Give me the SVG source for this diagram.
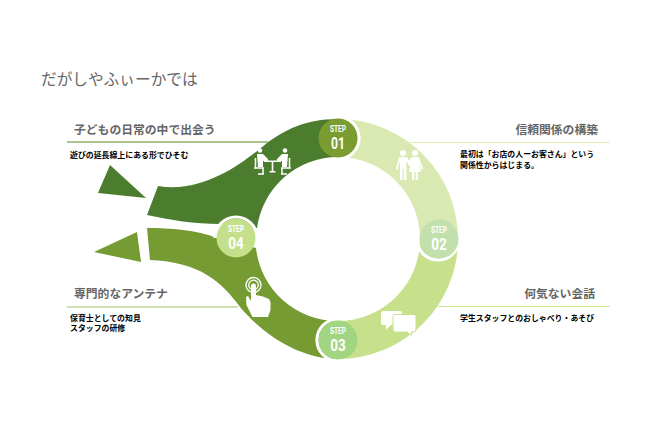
<svg xmlns="http://www.w3.org/2000/svg" width="652" height="431" viewBox="0 0 652 431">
<style>
text{font-family:"Noto Sans CJK JP","Liberation Sans",sans-serif}
.h{font-size:11.800px;font-weight:700;fill:#666}
.b{font-size:7.900px;font-weight:700;fill:#000}
.st{font-family:Roboto,"Liberation Sans",sans-serif;font-size:8.500px;font-weight:700;fill:#fff;text-anchor:middle}
.nm{font-family:Roboto,"Liberation Sans",sans-serif;font-size:16px;font-weight:700;fill:#fff;text-anchor:middle}
.halo{fill:none;stroke:#fff;stroke-width:3.2}
.w{fill:#fff}
.wl{fill:none;stroke:#fff;stroke-width:1.5}
</style>
<rect width="652" height="431" fill="#fff"/>
<text x="41" y="84.500" font-size="15.700" fill="#666">だがしやふぃーかでは</text>
<g id="connectors">
<path d="M338 119A120 120 0 0 1 458 239L420 239A82 82 0 0 0 338 157Z" fill="#d9e9b1"/>
<path d="M458 239A120 120 0 0 1 338 359L338 321A82 82 0 0 0 420 239Z" fill="#c6e08c"/>
<path d="M147 228C170 228 197 230 217 238L256 248A82 82 0 0 0 338 321L338 359C305 359 268 340 240 307C222 282 200 262 150 260Z" fill="#759b32"/>
<path d="M94 252L137 232L141 262Z" fill="#759b32"/>
<path d="M338 119C305 119 285 130 267 143C245 161 205 194 158 186L147 215C170 220 195 224 220 224L257 228A82 82 0 0 1 338 157Z" fill="#4c7d2e"/>
<path d="M110 165L98 193L146 198Z" fill="#4c7d2e"/>
<path d="M67 142H268" stroke="#4c8a1e" fill="none"/>
<path d="M67 307H238" stroke="#9dc45e" fill="none"/>
<path d="M410 142.500H610" stroke="#d9f0b0" fill="none"/>
<path d="M438 306.500H610" stroke="#c9e88c" fill="none"/>
</g>
<g id="step1">
<path class="halo" d="M338 117A21 21 0 0 1 338 159"/>
<circle cx="338" cy="138" r="19.500" fill="#7a9c31"/>
<text class="st" x="338" y="131.500" textLength="16" lengthAdjust="spacingAndGlyphs">STEP</text>
<text class="nm" x="338" y="148.500" textLength="14" lengthAdjust="spacingAndGlyphs">01</text>
<g id="icon-meeting">
<circle class="w" cx="260" cy="150.500" r="2.300"/><circle class="w" cx="285" cy="150.500" r="2.300"/>
<path class="w" d="M257 154H263L268 159V161H263V167H258Z"/><path class="w" d="M288 154H282L277 159V161H282V167H287Z"/>
<path class="w" d="M264 160.500H281V162H273.300V171H275.500V172.500H269.500V171H271.700V162H264Z"/>
<path class="wl" d="M255.500 158V168H263V174M258 174H264M254 168H264M289.500 158V168H282V174M287 174H281M291 168H281"/>
</g>
</g>
<g id="step2">
<path class="halo" d="M459 239A21 21 0 0 1 417 239"/>
<circle cx="439" cy="239" r="19.500" fill="#c2e0ac"/>
<text class="st" x="439" y="232.500" textLength="16" lengthAdjust="spacingAndGlyphs">STEP</text>
<text class="nm" x="439" y="249.500" textLength="15.500" lengthAdjust="spacingAndGlyphs">02</text>
<g id="icon-couple">
<circle class="w" cx="403" cy="153" r="3"/><circle class="w" cx="415" cy="153" r="3"/>
<path class="w" d="M399 157H407L411 164.500L409.500 166L406.500 161V180H403.700V169H402.500V180H400V161L397.500 170L396 169Z"/>
<path class="w" d="M411 157H419L423 169L421.500 170L418.500 162L421 172H418V180H415.700V172H414.300V180H412V172H409L411 163L409.500 166L408 164.500Z"/>
</g>
</g>
<g id="step3">
<path class="halo" d="M338 361A21 21 0 0 1 338 319"/>
<circle cx="338" cy="340" r="19.500" fill="#a2d581"/>
<text class="st" x="338" y="333.500" textLength="16" lengthAdjust="spacingAndGlyphs">STEP</text>
<text class="nm" x="338" y="350.500" textLength="15.500" lengthAdjust="spacingAndGlyphs">03</text>
<g id="icon-chat">
<path class="w" d="M383 311H400A2 2 0 0 1 402 313V323A2 2 0 0 1 400 325H391L386 329.500V325H383A2 2 0 0 1 381 323V313A2 2 0 0 1 383 311Z"/>
<path class="w" stroke="#c6e08c" stroke-width="1" d="M395 314.500H414A2 2 0 0 1 416 316.500V330A2 2 0 0 1 414 332H411.500V335.500L407 332H395A2 2 0 0 1 393 330V316.500A2 2 0 0 1 395 314.500Z"/>
</g>
</g>
<g id="step4">
<path class="halo" d="M215 238A21 21 0 0 1 257 238"/>
<circle cx="236" cy="238" r="19.500" fill="#c5e08a"/>
<text class="st" x="236" y="231.500" textLength="16" lengthAdjust="spacingAndGlyphs">STEP</text>
<text class="nm" x="236" y="248.500" textLength="15.500" lengthAdjust="spacingAndGlyphs">04</text>
<g id="icon-touch">
<circle fill="none" stroke="#fff" stroke-width="1.300" cx="253.500" cy="285" r="7.500"/>
<circle fill="none" stroke="#fff" stroke-width="1.300" cx="253.500" cy="285" r="4.800"/>
<path class="w" d="M251 286A2.500 2.500 0 0 1 256 286V295L263 296.500L269 299L270.500 302V310L268 317H252.500L246.500 305L246 297L248 296L251 301Z"/>
</g>
</g>
<g id="label1">
<text class="h" x="74" y="134">子どもの日常の中で出会う</text>
<text class="b" x="70" y="158">遊びの延長線上にある形でひそむ</text>
</g>
<g id="label2">
<text class="h" x="598" y="134" text-anchor="end">信頼関係の構築</text>
<text class="b" x="460" y="157">最初は「お店の人ーお客さん」という</text>
<text class="b" x="460" y="167.500">関係性からはじまる。</text>
</g>
<g id="label3">
<text class="h" x="595" y="298" text-anchor="end">何気ない会話</text>
<text class="b" x="460" y="320.500">学生スタッフとのおしゃべり・あそび</text>
</g>
<g id="label4">
<text class="h" x="74" y="298">専門的なアンテナ</text>
<text class="b" x="70" y="320.500">保育士としての知見</text>
<text class="b" x="70" y="330.500">スタッフの研修</text>
</g>
</svg>
